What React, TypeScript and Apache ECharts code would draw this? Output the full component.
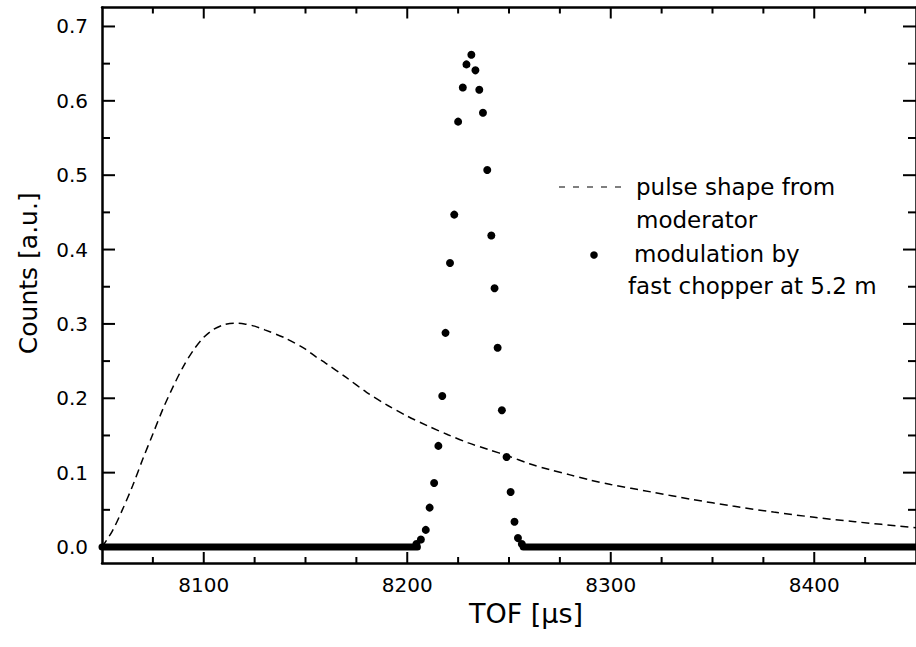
import React, { useEffect, useRef } from "react";
import * as echarts from "echarts";

// ---------- data ----------
const X_MIN = 8050;
const X_MAX = 8450;
const Y_MIN = -0.0215;
const Y_MAX = 0.7255;

const xMajorTicks = [8100, 8200, 8300, 8400];
const xMinorTicks = [8075, 8125, 8150, 8175, 8225, 8250, 8275, 8325, 8350, 8375, 8425];
const yMajorTicks = [0, 0.1, 0.2, 0.3, 0.4, 0.5, 0.6, 0.7];
const yMinorTicks = [0.05, 0.15, 0.25, 0.35, 0.45, 0.55, 0.65];

// pulse shape from moderator (dashed)
const pulseX = [
  8050, 8055, 8060, 8065, 8070, 8075, 8080, 8085, 8090, 8095, 8100, 8105, 8110, 8115, 8120,
  8125, 8130, 8140, 8150, 8155, 8160, 8170, 8180, 8190, 8200, 8210, 8220, 8230, 8240, 8250,
  8260, 8270, 8280, 8290, 8300, 8320, 8340, 8360, 8380, 8400, 8420, 8450,
];
const pulseY = [
  0.0, 0.021, 0.05, 0.082, 0.118, 0.152, 0.186, 0.216, 0.243, 0.265, 0.282, 0.293, 0.299, 0.301, 0.3,
  0.297, 0.292, 0.281, 0.266, 0.256, 0.247, 0.228, 0.208, 0.191, 0.176, 0.163, 0.151, 0.14, 0.131, 0.122,
  0.112, 0.104, 0.097, 0.09, 0.084, 0.074, 0.064, 0.055, 0.047, 0.04, 0.034, 0.026,
];

// modulation by fast chopper (dots)
const chopperX = [
  8204.5, 8206.7, 8209.1, 8211.0, 8213.2, 8215.3, 8217.2, 8218.8, 8221.0, 8223.1, 8225.0, 8227.3,
  8229.1, 8231.5, 8233.5, 8235.4, 8237.2, 8239.3, 8241.3, 8242.9, 8244.4, 8246.5, 8248.8, 8250.8,
  8252.7, 8254.4, 8256.3,
];
const chopperY = [
  0.004, 0.01, 0.023, 0.053, 0.086, 0.136, 0.203, 0.288, 0.382, 0.447, 0.572, 0.618,
  0.649, 0.662, 0.641, 0.615, 0.584, 0.507, 0.419, 0.348, 0.268, 0.184, 0.121, 0.074,
  0.034, 0.012, 0.004,
];
// dense zero-valued chopper points form a solid band
const zeroBandLeftX = [8050, 8205];
const zeroBandRightX = [8257, 8450];

const FONT = "DejaVu Sans";

export default function App() {
  const ref = useRef<HTMLDivElement>(null);

  useEffect(() => {
    if (!ref.current) return;
    const chart = echarts.init(ref.current, undefined, { renderer: "svg" });

    const black = "#000";
    const frame = { show: true, onZero: false, lineStyle: { color: black, width: 2.5 } };

    // inward ticks on both sides, drawn through the axes' own scales
    const xTickSeries = (vals: number[], len: number) => ({
      type: "custom",
      silent: true,
      data: vals.map((v) => [v, 0]),
      renderItem: (params: any, api: any) => {
        const v = api.value(0);
        const b = api.coord([v, Y_MIN]);
        const t = api.coord([v, Y_MAX]);
        const st = { stroke: black, lineWidth: 2 };
        return {
          type: "group",
          children: [
            { type: "line", shape: { x1: b[0], y1: b[1], x2: b[0], y2: b[1] - len }, style: st },
            { type: "line", shape: { x1: t[0], y1: t[1], x2: t[0], y2: t[1] + len }, style: st },
          ],
        };
      },
    });
    const yTickSeries = (vals: number[], len: number) => ({
      type: "custom",
      silent: true,
      data: vals.map((v) => [X_MIN, v]),
      renderItem: (params: any, api: any) => {
        const v = api.value(1);
        const l = api.coord([X_MIN, v]);
        const r = api.coord([X_MAX, v]);
        const st = { stroke: black, lineWidth: 2 };
        return {
          type: "group",
          children: [
            { type: "line", shape: { x1: l[0], y1: l[1], x2: l[0] + len, y2: l[1] }, style: st },
            { type: "line", shape: { x1: r[0], y1: r[1], x2: r[0] - len, y2: r[1] }, style: st },
          ],
        };
      },
    });

    const option: any = {
      animation: false,
      backgroundColor: "#fff",
      grid: { left: 102, top: 7.5, width: 823, height: 555.5, containLabel: false },
      xAxis: [
        {
          type: "value",
          min: X_MIN,
          max: X_MAX,
          position: "bottom",
          splitLine: { show: false },
          axisLine: frame,
          axisTick: { show: false },
          axisLabel: {
            customValues: xMajorTicks,
            formatter: (v: number) => String(v),
            margin: 12,
            fontSize: 20,
            fontFamily: FONT,
            color: black,
          },
          name: "TOF [µs]",
          nameLocation: "middle",
          nameGap: 35,
          nameTextStyle: { fontSize: 27, fontFamily: FONT, color: black, padding: [0, 0, 0, 34] },
        },
        {
          type: "value",
          min: X_MIN,
          max: X_MAX,
          position: "top",
          splitLine: { show: false },
          axisLine: frame,
          axisTick: { show: false },
          axisLabel: { show: false },
        },
      ],
      yAxis: [
        {
          type: "value",
          min: Y_MIN,
          max: Y_MAX,
          position: "left",
          splitLine: { show: false },
          axisLine: frame,
          axisTick: { show: false },
          axisLabel: {
            customValues: yMajorTicks,
            margin: 14,
            fontSize: 20,
            fontFamily: FONT,
            color: black,
            formatter: (v: number) => v.toFixed(1),
          },
          name: "Counts [a.u.]",
          nameLocation: "middle",
          nameGap: 61,
          nameTextStyle: { fontSize: 25, fontFamily: FONT, color: black, padding: [0, 0, 0, 24] },
        },
        {
          type: "value",
          min: Y_MIN,
          max: Y_MAX,
          position: "right",
          splitLine: { show: false },
          axisLine: frame,
          axisTick: { show: false },
          axisLabel: { show: false },
        },
      ],
      series: [
        {
          name: "pulse shape from moderator",
          type: "line",
          data: pulseX.map((x, i) => [x, pulseY[i]]),
          showSymbol: false,
          smooth: 0.3,
          clip: true,
          lineStyle: { color: black, width: 1.5, type: [8, 5] },
        },
        {
          name: "zero band left",
          type: "line",
          data: zeroBandLeftX.map((x) => [x, 0]),
          showSymbol: false,
          clip: true,
          lineStyle: { color: black, width: 7, cap: "round" },
        },
        {
          name: "zero band right",
          type: "line",
          data: zeroBandRightX.map((x) => [x, 0]),
          showSymbol: false,
          clip: true,
          lineStyle: { color: black, width: 7, cap: "round" },
        },
        {
          name: "modulation by fast chopper at 5.2 m",
          type: "scatter",
          data: chopperX.map((x, i) => [x, chopperY[i]]),
          symbol: "circle",
          symbolSize: 8,
          itemStyle: { color: black, opacity: 1 },
        },
        xTickSeries(xMajorTicks, 11),
        xTickSeries(xMinorTicks, 6),
        yTickSeries(yMajorTicks, 13),
        yTickSeries(yMinorTicks, 8),
      ],
      graphic: [
        {
          type: "line",
          shape: { x1: 559, y1: 187, x2: 629, y2: 187 },
          style: { stroke: black, lineWidth: 1.2, lineDash: [6, 8] },
        },
        {
          type: "text",
          x: 636,
          y: 187,
          style: { text: "pulse shape from", fontSize: 23, fontFamily: FONT, fill: black, verticalAlign: "middle" },
        },
        {
          type: "text",
          x: 636,
          y: 220,
          style: { text: "moderator", fontSize: 23, fontFamily: FONT, fill: black, verticalAlign: "middle" },
        },
        {
          type: "circle",
          shape: { cx: 594, cy: 255, r: 3.8 },
          style: { fill: black },
        },
        {
          type: "text",
          x: 634,
          y: 254,
          style: { text: "modulation by", fontSize: 23, fontFamily: FONT, fill: black, verticalAlign: "middle" },
        },
        {
          type: "text",
          x: 628,
          y: 286,
          style: { text: "fast chopper at 5.2 m", fontSize: 23, fontFamily: FONT, fill: black, verticalAlign: "middle" },
        },
      ],
    };

    chart.setOption(option);
    return () => chart.dispose();
  }, []);

  return (
    <div
      ref={ref}
      style={{ position: "fixed", left: 0, top: 0, width: 916, height: 647, background: "#fff" }}
    />
  );
}
